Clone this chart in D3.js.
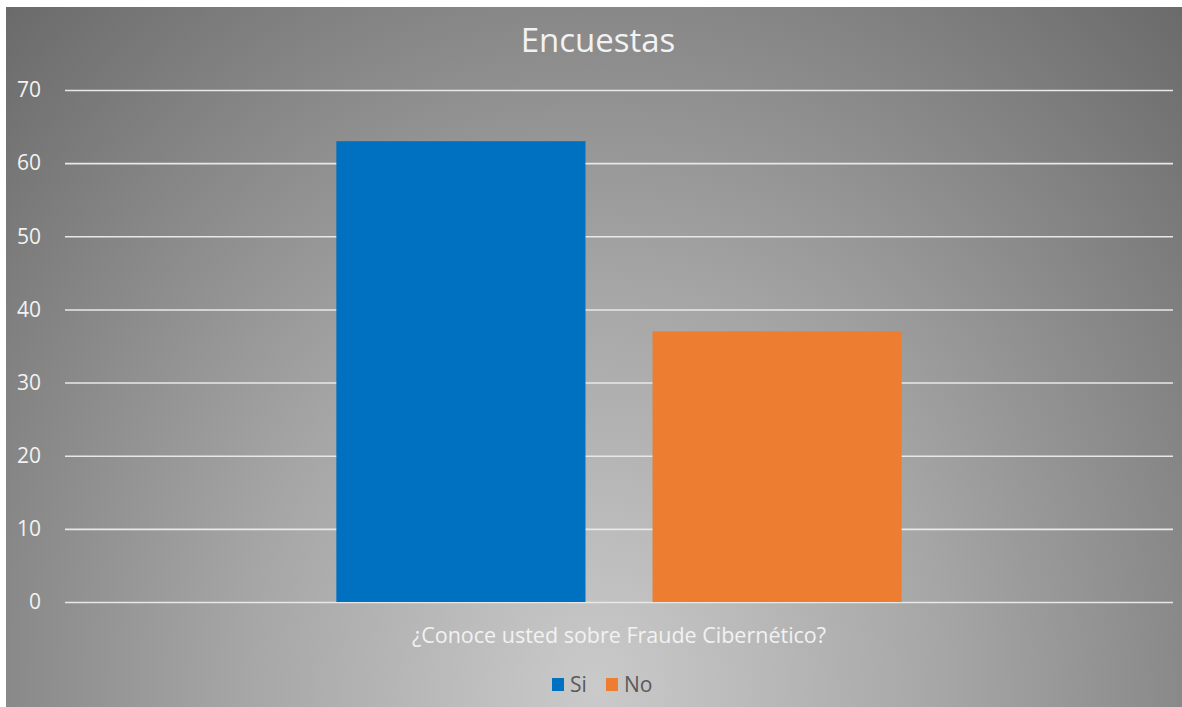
<!DOCTYPE html>
<html>
<head>
<meta charset="utf-8">
<script src="https://cdn.jsdelivr.net/npm/d3@7"></script>
<style>
    body { margin: 0; background: #ffffff; }
    text { font-family: "Open Sans", "Noto Sans", sans-serif; }
</style>
</head>
<body>
<div class="encuesta-bar-container"></div>
<script>
// Data
const categories = ["¿Conoce usted sobre Fraude Cibernético?"]
const seriesNames = ["Si", "No"]
const seriesValues = [63, 37]
const seriesColors = ["#0070C0", "#ED7D31"]
const yTicks = [0, 10, 20, 30, 40, 50, 60, 70]
const chartTitle = "Encuestas"

let bar_dimensions = {
    width: 1182,
    height: 707,
    margin: {
        top: 90,
        bottom: 105,
        left: 65,
        right: 9
    }
}

const svg = d3.select(".encuesta-bar-container")
    .append('svg')
    .attr('width', bar_dimensions.width)
    .attr('height', bar_dimensions.height)

// Background: radial gray gradient
const defs = svg.append('defs')
const grad = defs.append('radialGradient')
    .attr('id', 'bg-grad')
    .attr('gradientUnits', 'userSpaceOnUse')
    .attr('cx', 594).attr('cy', 690).attr('r', 1000)
    .attr('fx', 594).attr('fy', 690)
    .attr('gradientTransform', 'translate(594,690) scale(0.875,1) translate(-594,-690)')
grad.append('stop').attr('offset', 0).attr('stop-color', '#cacaca')
grad.append('stop').attr('offset', 0.4).attr('stop-color', '#a6a6a6')
grad.append('stop').attr('offset', 1).attr('stop-color', '#666666')

svg.append('rect')
    .attr('x', 6)
    .attr('y', 7)
    .attr('width', bar_dimensions.width - 6)
    .attr('height', bar_dimensions.height - 7)
    .attr('fill', 'url(#bg-grad)')

const container = svg.append('g')
    .attr('transform', `translate(${bar_dimensions.margin.left},${bar_dimensions.margin.top})`)

const containerWidth = bar_dimensions.width - bar_dimensions.margin.left - bar_dimensions.margin.right
const containerHeight = bar_dimensions.height - bar_dimensions.margin.top - bar_dimensions.margin.bottom

const yScale = d3.scaleLinear()
    .domain([0, 70])
    .range([containerHeight, 0])

const x0 = d3.scaleBand()
    .domain(categories)
    .range([0, containerWidth])
    .paddingInner(0)
    .paddingOuter(0.48)

const x1 = d3.scaleBand()
    .domain(seriesNames)
    .range([0, x0.bandwidth()])
    .paddingInner(0.212)
    .paddingOuter(0)

// Gridlines and Y labels
const yAxis = d3.axisLeft(yScale)
    .tickValues(yTicks)
    .tickSize(-containerWidth)
    .tickPadding(24)
    .tickFormat(d => d)

const yAxisGroup = container.append('g').call(yAxis)
yAxisGroup.select('.domain').remove()
yAxisGroup.selectAll('line')
    .attr('stroke', '#e8e8e8')
    .attr('stroke-width', 1.6)
yAxisGroup.selectAll('text')
    .attr('fill', '#f2f2f2')
    .attr('font-size', '21px')
    .style('font-family', '"Open Sans", sans-serif')

// Bars
const barData = seriesNames.map((s, i) => ({
    category: categories[0],
    series: s,
    value: seriesValues[i],
    color: seriesColors[i]
}))

container.selectAll('rect.bar')
    .data(barData)
    .join('rect')
    .attr('class', 'bar')
    .attr('x', d => x0(d.category) + x1(d.series))
    .attr('y', d => yScale(d.value))
    .attr('width', x1.bandwidth())
    .attr('height', d => containerHeight - yScale(d.value))
    .attr('fill', d => d.color)

// Category label
container.selectAll('text.cat')
    .data(categories)
    .join('text')
    .attr('class', 'cat')
    .attr('x', d => x0(d) + x0.bandwidth() / 2)
    .attr('y', containerHeight + 41)
    .attr('text-anchor', 'middle')
    .attr('fill', '#f2f2f2')
    .attr('font-size', '21.5px')
    .text(d => d)

// Title
svg.append('text')
    .attr('x', 598)
    .attr('y', 52)
    .attr('text-anchor', 'middle')
    .attr('fill', '#f2f2f2')
    .attr('font-size', '33px')
    .text(chartTitle)

// Legend
const legendX = [552, 606]
const legend = svg.append('g')
    .selectAll('g')
    .data(barData)
    .join('g')
    .attr('transform', (d, i) => `translate(${legendX[i]}, 678)`)

legend.append('rect')
    .attr('width', 12)
    .attr('height', 13)
    .attr('fill', d => d.color)

legend.append('text')
    .attr('x', 18)
    .attr('y', 13.5)
    .attr('fill', '#595959')
    .attr('font-size', '21px')
    .text(d => d.series)
</script>
</body>
</html>
